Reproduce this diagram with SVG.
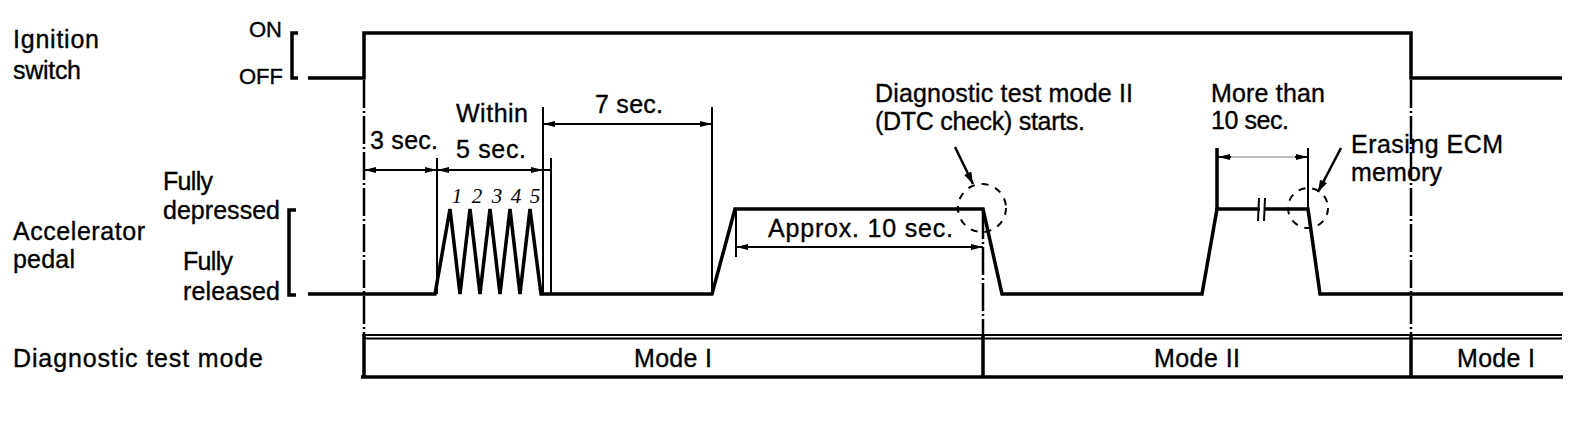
<svg xmlns="http://www.w3.org/2000/svg" width="1584" height="426" viewBox="0 0 1584 426">
<style>
.t{font-family:"Liberation Sans",Arial,sans-serif;font-size:25px;fill:#000;stroke:#000;stroke-width:0.35}
.s{font-size:22px}
.d{font-family:"Liberation Serif","Times New Roman",serif;font-style:italic;font-size:21px;fill:#000;text-anchor:middle}
.ln{stroke:#000;fill:none;stroke-width:3.5;stroke-linejoin:miter}
.thin{stroke:#000;fill:none;stroke-width:2}
.dim{stroke:#000;fill:none;stroke-width:2;marker-start:url(#ah);marker-end:url(#ah)}
.chain{stroke:#000;fill:none;stroke-width:2.5;stroke-dasharray:28 3 2 3}
.circ{stroke:#000;fill:none;stroke-width:2;stroke-dasharray:7 7}
.ptr{stroke:#000;fill:none;stroke-width:2.5;marker-end:url(#pa)}
</style>
<defs>
<marker id="ah" viewBox="0 0 12 6" refX="12" refY="3" markerWidth="12" markerHeight="6" markerUnits="userSpaceOnUse" orient="auto-start-reverse"><path d="M0,0 L12,3 L0,6 z" fill="#000"/></marker>
<marker id="pa" viewBox="0 0 12 8" refX="12" refY="4" markerWidth="12" markerHeight="8" markerUnits="userSpaceOnUse" orient="auto"><path d="M0,0 L12,4 L0,8 z" fill="#000"/></marker>
</defs>
<rect width="1584" height="426" fill="#fff"/>

<g id="labels">
<text class="t" x="13" y="48" textLength="86" lengthAdjust="spacing">Ignition</text>
<text class="t" x="13" y="79" textLength="68" lengthAdjust="spacing">switch</text>
<text class="t s" x="249" y="37" textLength="33" lengthAdjust="spacing">ON</text>
<text class="t s" x="239" y="84" textLength="44" lengthAdjust="spacing">OFF</text>
<text class="t" x="13" y="240" textLength="132" lengthAdjust="spacing">Accelerator</text>
<text class="t" x="13" y="268" textLength="62" lengthAdjust="spacing">pedal</text>
<text class="t" x="163" y="190" textLength="50" lengthAdjust="spacing">Fully</text>
<text class="t" x="163" y="219" textLength="117" lengthAdjust="spacing">depressed</text>
<text class="t" x="183" y="270" textLength="50" lengthAdjust="spacing">Fully</text>
<text class="t" x="183" y="300" textLength="97" lengthAdjust="spacing">released</text>
<text class="t" x="13" y="367" textLength="250" lengthAdjust="spacing">Diagnostic test mode</text>
</g>

<g id="ignition-switch">
<path class="ln" d="M298,33 L292,33 L292,78 L298,78" stroke-width="2.5"/>
<path class="ln" d="M308,78 L364,78 L364,33 L1411,33 L1411,78 L1562,78"/>
</g>

<g id="accelerator-pedal">
<path class="ln" d="M296,210 L289,210 L289,295 L296,295" stroke-width="2.5"/>
<path class="ln" d="M308,294 L435,294 L450,209 L460,294 L470,209 L480,294 L490,209 L500,294 L510,209 L520,294 L530,209 L541,294 L712,294 L735,209 L983,209 L1002,294 L1202,294 L1217,209 L1308,209 L1320,294 L1563,294" stroke-width="3.8"/>
<rect x="1260" y="204" width="4" height="10" fill="#fff"/>
<line class="thin" x1="1259" y1="198" x2="1258" y2="221" stroke-width="2.5"/>
<line class="thin" x1="1265" y1="198" x2="1264" y2="221" stroke-width="2.5"/>
<text class="d" x="457" y="203">1</text>
<text class="d" x="477" y="203">2</text>
<text class="d" x="497" y="203">3</text>
<text class="d" x="516" y="203">4</text>
<text class="d" x="535" y="203">5</text>
</g>

<g id="connectors">
<line class="chain" x1="364" y1="80" x2="364" y2="336"/>
<line class="chain" x1="983" y1="211" x2="983" y2="336"/>
<line class="chain" x1="1411" y1="80" x2="1411" y2="336"/>
<line class="thin" x1="437" y1="158" x2="437" y2="294"/>
<line class="thin" x1="543" y1="107" x2="543" y2="294"/>
<line class="thin" x1="551" y1="158" x2="551" y2="294"/>
<line class="thin" x1="712" y1="107" x2="712" y2="294"/>
<line class="thin" x1="736" y1="209" x2="736" y2="257"/>
<line class="ln" x1="1217" y1="148" x2="1217" y2="209" stroke-width="4"/>
<line class="thin" x1="1308" y1="148" x2="1308" y2="209"/>
<line class="dim" x1="364" y1="170" x2="437" y2="170"/>
<line class="dim" x1="437" y1="170" x2="543" y2="170"/>
<line class="thin" x1="543" y1="170" x2="551" y2="170"/>
<line class="dim" x1="543" y1="124" x2="712" y2="124"/>
<line class="dim" x1="736" y1="247" x2="983" y2="247"/>
<line class="dim" x1="1218" y1="157" x2="1308" y2="157" stroke-width="4"/>
<line x1="1231" y1="157" x2="1295" y2="157" stroke="#fff" stroke-width="1.5"/>
<circle class="circ" cx="982" cy="208" r="24"/>
<circle class="circ" cx="1308" cy="208" r="20"/>
<line class="ptr" x1="955" y1="147" x2="973" y2="184"/>
<line class="ptr" x1="1341" y1="148" x2="1318" y2="192"/>
</g>

<g id="timing-labels">
<text class="t" x="370" y="149" textLength="68" lengthAdjust="spacing">3 sec.</text>
<text class="t" x="456" y="122" textLength="72" lengthAdjust="spacing">Within</text>
<text class="t" x="456" y="158" textLength="70" lengthAdjust="spacing">5 sec.</text>
<text class="t" x="595" y="113" textLength="68" lengthAdjust="spacing">7 sec.</text>
<text class="t" x="768" y="237" textLength="185" lengthAdjust="spacing">Approx. 10 sec.</text>
<text class="t" x="875" y="102" textLength="258" lengthAdjust="spacing">Diagnostic test mode II</text>
<text class="t" x="875" y="130" textLength="210" lengthAdjust="spacing">(DTC check) starts.</text>
<text class="t" x="1211" y="102" textLength="114" lengthAdjust="spacing">More than</text>
<text class="t" x="1211" y="129" textLength="78" lengthAdjust="spacing">10 sec.</text>
<text class="t" x="1351" y="153" textLength="152" lengthAdjust="spacing">Erasing ECM</text>
<text class="t" x="1351" y="181" textLength="91" lengthAdjust="spacing">memory</text>
</g>

<g id="mode-bar">
<line class="thin" x1="364" y1="335" x2="1562" y2="335"/>
<line class="thin" x1="364" y1="338.5" x2="1562" y2="338.5" stroke-width="1"/>
<line class="ln" x1="361" y1="377" x2="1563" y2="377" stroke-width="4"/>
<line class="ln" x1="364" y1="334" x2="364" y2="377"/>
<line class="ln" x1="983" y1="334" x2="983" y2="377"/>
<line class="ln" x1="1411" y1="334" x2="1411" y2="377"/>
<text class="t" x="634" y="367" textLength="78" lengthAdjust="spacing">Mode I</text>
<text class="t" x="1154" y="367" textLength="86" lengthAdjust="spacing">Mode II</text>
<text class="t" x="1457" y="367" textLength="78" lengthAdjust="spacing">Mode I</text>
</g>
</svg>
